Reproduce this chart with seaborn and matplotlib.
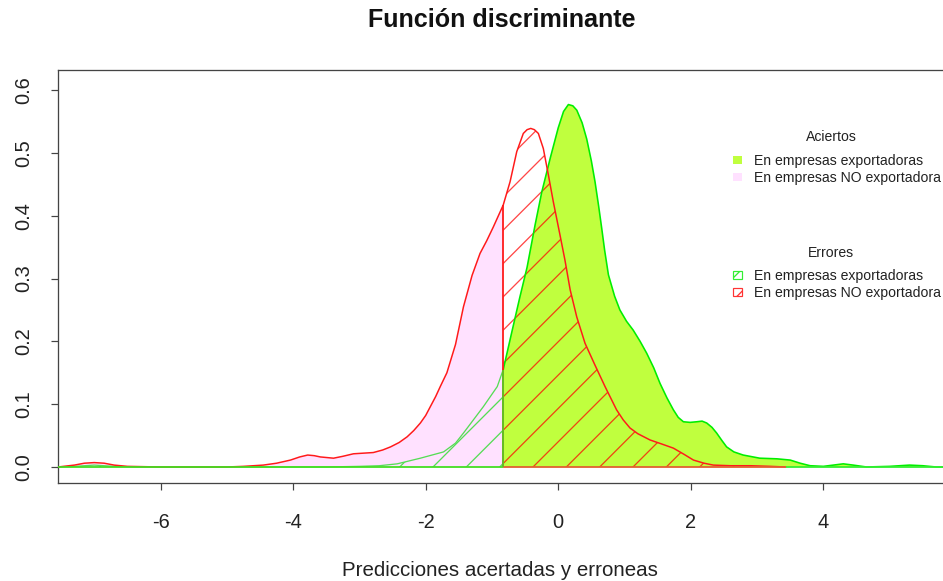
import numpy as np
import pandas as pd
import matplotlib
matplotlib.use("Agg")
import matplotlib.pyplot as plt
from matplotlib.patches import Patch
import seaborn as sns

# ---------------- data ----------------
x_export = [-7.547, -7.3, -7.0, -6.7, -6.4, -3.5, -3.0, -2.7, -2.43, -2.08, -1.73,
            -1.55, -1.43, -1.13, -0.92, -0.83, -0.70, -0.58, -0.47, -0.35, -0.25,
            -0.12, 0.0, 0.08, 0.153, 0.22, 0.28, 0.36, 0.43, 0.50, 0.555, 0.61,
            0.656, 0.70, 0.757, 0.85, 0.93, 1.03, 1.13, 1.235, 1.335, 1.44, 1.536,
            1.64, 1.737, 1.81, 1.888, 1.99, 2.09, 2.17, 2.24, 2.32, 2.39, 2.47, 2.54,
            2.65, 2.79, 3.04, 3.3, 3.5, 3.65, 3.8, 4.0, 4.15, 4.3, 4.45, 4.65, 5.0,
            5.3, 5.5, 5.7, 5.85]
y_export = [0.000, 0.001, 0.003, 0.001, 0.000, 0.000, 0.001, 0.002, 0.005, 0.014, 0.024,
            0.038, 0.054, 0.096, 0.128, 0.155, 0.215, 0.270, 0.318, 0.385, 0.437,
            0.492, 0.540, 0.566, 0.577, 0.575, 0.568, 0.548, 0.522, 0.487, 0.454, 0.415,
            0.380, 0.345, 0.306, 0.272, 0.250, 0.232, 0.218, 0.200, 0.181, 0.158, 0.133,
            0.110, 0.091, 0.079, 0.072, 0.071, 0.072, 0.073, 0.070, 0.063, 0.054, 0.042, 0.032,
            0.024, 0.019, 0.014, 0.013, 0.011, 0.006, 0.002, 0.001, 0.003, 0.005, 0.003, 0.000, 0.001,
            0.003, 0.002, 0.000, 0.000]

x_noexport = [-7.547, -7.3, -7.15, -7.0, -6.85, -6.7, -6.5, -6.0, -5.0, -4.75, -4.45,
              -4.25, -4.04, -3.9, -3.78, -3.68, -3.59, -3.39, -3.25, -3.09, -2.79,
              -2.65, -2.53, -2.4, -2.28, -2.18, -2.08, -2.0, -1.93, -1.85, -1.78,
              -1.68, -1.55, -1.43, -1.30, -1.18, -1.08, -0.98, -0.83, -0.727, -0.626,
              -0.527, -0.47, -0.415, -0.36, -0.30, -0.225, -0.149, -0.074, 0.027, 0.10,
              0.18, 0.279, 0.404, 0.555, 0.706, 0.88, 0.98, 1.083, 1.2, 1.385, 1.55,
              1.737, 1.9, 2.04, 2.2, 2.34, 2.6, 2.9, 3.2, 3.43]
y_noexport = [0.000, 0.003, 0.006, 0.007, 0.006, 0.003, 0.001, 0.000, 0.000, 0.001, 0.003,
              0.006, 0.011, 0.016, 0.019, 0.018, 0.016, 0.014, 0.017, 0.021, 0.023,
              0.027, 0.032, 0.039, 0.048, 0.058, 0.070, 0.082, 0.096, 0.112, 0.128,
              0.150, 0.195, 0.255, 0.305, 0.340, 0.360, 0.382, 0.417, 0.454, 0.502,
              0.531, 0.537, 0.539, 0.537, 0.531, 0.507, 0.465, 0.422, 0.369, 0.330,
              0.282, 0.239, 0.197, 0.162, 0.128, 0.091, 0.075, 0.062, 0.053, 0.043, 0.037,
              0.030, 0.020, 0.011, 0.006, 0.003, 0.002, 0.002, 0.001, 0.000]

umbral = -0.83

title_text = "Función discriminante"
xlabel_text = "Predicciones acertadas y erroneas"
x_ticks = [-6, -4, -2, 0, 2, 4]
y_ticks = [0.0, 0.1, 0.2, 0.3, 0.4, 0.5, 0.6]
y_ticklabels = ["0.0", "0.1", "0.2", "0.3", "0.4", "0.5", "0.6"]
legend_titles = ["Aciertos", "Errores"]
legend_labels = ["En empresas exportadoras", "En empresas NO exportadora"]

# ---------------- style ----------------
DPI = 200
def pt(px):
    return px * 72.0 / DPI

GREEN_FILL = "#C0FF3E"
PINK_FILL = "#FFE1FF"
GREEN_LINE = "#00EE00"
GREEN_HATCH = "#55DD55"
RED = "#FF1a1a"

sns.set_theme(style="ticks")
plt.rcParams["font.family"] = ["Liberation Sans", "DejaVu Sans"]
plt.rcParams["hatch.linewidth"] = pt(1.3)

W, H = 943, 581
fig = plt.figure(figsize=(W / DPI, H / DPI), dpi=DPI)
fig.patch.set_facecolor("white")
ax_l, ax_r, ax_t, ax_b = 58, 946, 70, 483
ax = fig.add_axes([ax_l / W, (H - ax_b) / H, (ax_r - ax_l) / W, (ax_b - ax_t) / H])

df_e = pd.DataFrame({"x": x_export, "y": y_export})
df_n = pd.DataFrame({"x": x_noexport, "y": y_noexport})
xe = df_e["x"].to_numpy(); ye = df_e["y"].to_numpy()
xn = df_n["x"].to_numpy(); yn = df_n["y"].to_numpy()

# fills
ax.fill_between(xn, yn, where=xn <= umbral, facecolor=PINK_FILL, edgecolor="none", lw=0, zorder=1)
ax.fill_between(xe, ye, where=xe >= umbral, facecolor=GREEN_FILL, edgecolor="none", lw=0, zorder=1)
ax.fill_between(xe, ye, where=xe <= umbral, facecolor="none", edgecolor=GREEN_HATCH,
                hatch="//", lw=0, zorder=2)
ax.fill_between(xn, yn, where=xn >= umbral, facecolor="none", edgecolor=(1, 0, 0, 0.72),
                hatch="//", lw=0, zorder=3)

# curves
left = df_e[df_e["x"] <= umbral]
right = df_e[df_e["x"] >= umbral]
sns.lineplot(data=left, x="x", y="y", ax=ax, color=GREEN_HATCH, lw=pt(1.3),
             sort=False, estimator=None, zorder=4)
sns.lineplot(data=right, x="x", y="y", ax=ax, color=GREEN_LINE, lw=pt(1.6),
             sort=False, estimator=None, zorder=4)
sns.lineplot(data=df_n, x="x", y="y", ax=ax, color=RED, lw=pt(1.5),
             sort=False, estimator=None, zorder=5)

# threshold & base edges of polygons
y_n_thr = float(np.interp(umbral, xn, yn))
y_e_thr = float(np.interp(umbral, xe, ye))
ax.vlines(umbral, 0, y_n_thr, color=RED, lw=pt(1.8), zorder=5)
ax.vlines(umbral, 0, y_e_thr, color="#66BB22", lw=pt(2.0), zorder=6)
ax.hlines(0, xe[0], umbral, color="#44DD22", lw=pt(1.8), zorder=5)
ax.hlines(0, umbral, xn[-1], color="#E06030", lw=pt(1.8), zorder=5)
ax.hlines(0, xn[-1], xe[-1], color="#33EE33", lw=pt(1.8), zorder=5)

# axes
ax.set_xlim(-7.547, 5.85)
ax.set_ylim(-0.0255, 0.632)
ax.set_xticks(x_ticks)
ax.set_xticklabels([str(t) for t in x_ticks])
ax.set_yticks(y_ticks)
ax.set_yticklabels(y_ticklabels, rotation=90, va="center")
ax.tick_params(axis="both", direction="out", length=pt(7), width=pt(1.2),
               colors="#444444", labelsize=pt(20), labelcolor="#222222")
ax.tick_params(axis="x", pad=pt(23))
ax.tick_params(axis="y", pad=pt(18))
for s in ax.spines.values():
    s.set_color("#444444")
    s.set_linewidth(pt(1.3))
    s.set_visible(True)
ax.set_xlabel(xlabel_text, fontsize=pt(20.5), color="#222222", va="center")
ax.set_ylabel("")
ax.xaxis.set_label_coords((500 - ax_l) / (ax_r - ax_l), (ax_b - 571) / (ax_b - ax_t))
ax.grid(False)

fig.text(502 / W, 1 - 20 / H, title_text, ha="center", va="center",
         fontsize=pt(25.2), fontweight="bold", color="#111111")

# legends
common = dict(loc="upper left", bbox_transform=fig.transFigure, frameon=False,
              fontsize=pt(14), handlelength=0.65,
              handleheight=0.5, handletextpad=0.85, labelspacing=0.2,
              borderpad=0, borderaxespad=0)
h1 = [Patch(facecolor=GREEN_FILL, edgecolor=GREEN_FILL, lw=0),
      Patch(facecolor=PINK_FILL, edgecolor=PINK_FILL, lw=0)]
leg1 = ax.legend(h1, legend_labels, bbox_to_anchor=(733 / W, 1 - 154 / H), **common)
ax.add_artist(leg1)
h2 = [Patch(facecolor="white", edgecolor="#33EE33", hatch="//////", lw=pt(1.2)),
      Patch(facecolor="white", edgecolor="#FF3333", hatch="//////", lw=pt(1.2))]
leg2 = ax.legend(h2, legend_labels, bbox_to_anchor=(733 / W, 1 - 269 / H), **common)
for lg in (leg1, leg2):
    for t in lg.get_texts():
        t.set_color("#222222")
fig.text(831 / W, 1 - 137 / H, legend_titles[0], ha="center", va="center",
         fontsize=pt(14), color="#222222")
fig.text(831 / W, 1 - 253 / H, legend_titles[1], ha="center", va="center",
         fontsize=pt(14), color="#222222")

fig.savefig("out.png", dpi=DPI, facecolor="white")
